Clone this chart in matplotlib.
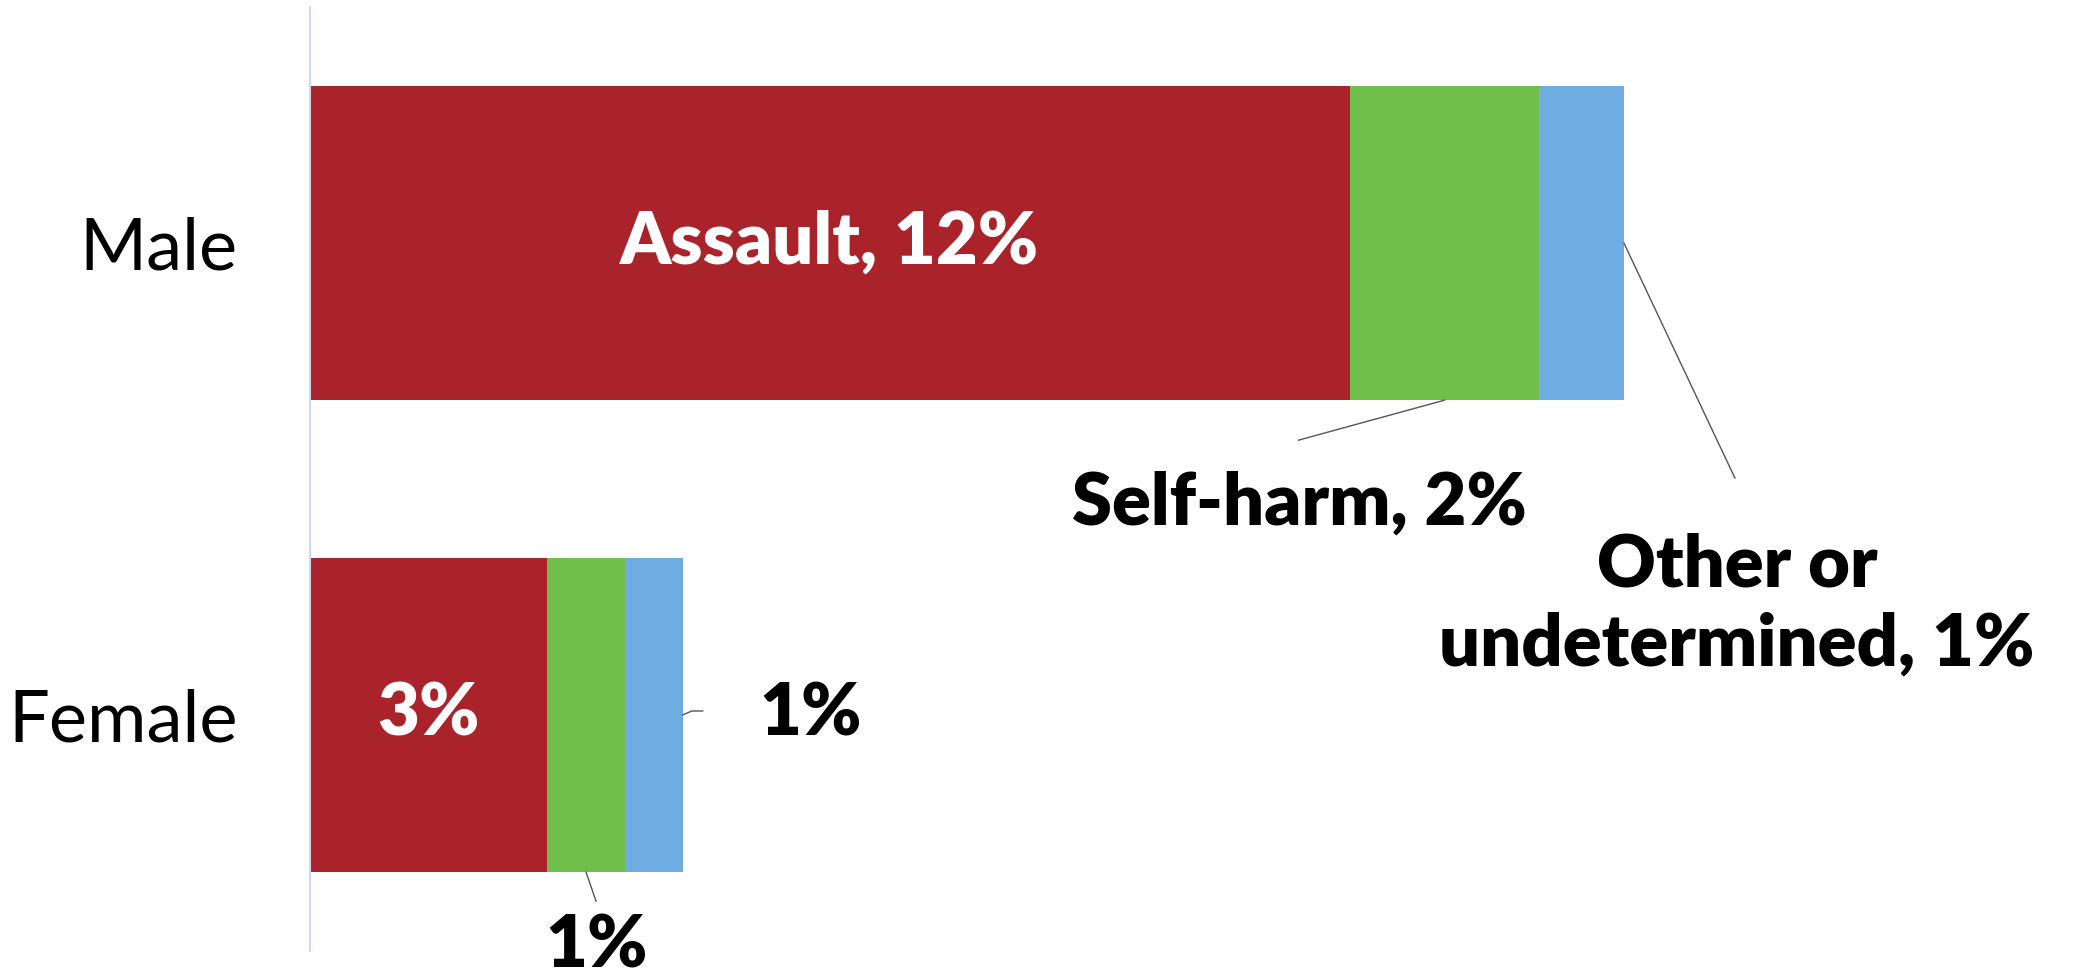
import numpy as np
import matplotlib
matplotlib.use("Agg")
import matplotlib.pyplot as plt

# Data (share of deaths, %)
groups = ["Male", "Female"]
causes = ["Assault", "Self-harm", "Other or undetermined"]
values = {
    "Assault": [12.0, 2.73],
    "Self-harm": [2.18, 0.91],
    "Other or undetermined": [0.98, 0.66],
}
labels = {
    "Assault": ["Assault, 12%", "3%"],
    "Self-harm": ["Self-harm, 2%", "1%"],
    "Other or undetermined": ["Other or\nundetermined, 1%", "1%"],
}
colors = {
    "Assault": "#AA222A",
    "Self-harm": "#70BF4B",
    "Other or undetermined": "#6FACE2",
}

plt.rcParams['font.family'] = ['Lato', 'DejaVu Sans']

W, H = 2077, 973
fig = plt.figure(figsize=(W / 100, H / 100), dpi=100)
ax = fig.add_axes([310 / W, 1 - 951 / H, 1 - 310 / W, 944 / H])

ypos = np.arange(len(groups))
left = np.zeros(len(groups))
segs = {}
for c in causes:
    v = np.array(values[c])
    ax.barh(ypos, v, left=left, height=0.667, color=colors[c], linewidth=0)
    segs[c] = (left.copy(), v)
    left = left + v

ax.set_xlim(0, (W - 310) / 86.67)
ax.set_ylim(1.5, -0.5)
ax.set_yticks(ypos)
ax.set_yticklabels(groups, fontsize=52)
ax.tick_params(axis='y', length=0, pad=52)
ax.set_xticks([])
for s in ["top", "right", "bottom"]:
    ax.spines[s].set_visible(False)
ax.spines["left"].set_color("#C9D9F7")
ax.spines["left"].set_linewidth(1.5)

bold = dict(fontsize=52, fontweight='heavy', ha='center', va='center')


def to_px(x, y):
    return ax.transData.transform((x, y))


def px_to_data(px, py):
    return ax.transData.inverted().transform((px, py))


def leader(points):
    pts = np.array([px_to_data(*p) for p in points])
    ax.plot(pts[:, 0], pts[:, 1], color="#555555", lw=1, clip_on=False)


# Assault labels inside bars
for i in range(len(groups)):
    l, v = segs["Assault"]
    ax.text(l[i] + v[i] / 2, ypos[i], labels["Assault"][i], color='white', **bold)

# Male: self-harm below
l, v = segs["Self-harm"]
x0, y0 = to_px(l[0] + v[0] / 2, ypos[0] + 0.333)
leader([(x0, y0), (x0 - 146, y0 - 40)])
ax.annotate(labels["Self-harm"][0], xy=px_to_data(x0 - 145, y0 - 103), xycoords='data',
            color='black', annotation_clip=False, **bold)

# Male: other to the lower right
l, v = segs["Other or undetermined"]
x0, y0 = to_px(l[0] + v[0], ypos[0])
leader([(x0, y0), (x0 + 111, y0 - 235)])
ax.annotate(labels["Other or undetermined"][0], xy=px_to_data(x0 + 113, y0 - 362),
            xycoords='data', color='black', annotation_clip=False,
            linespacing=1.25, **bold)

# Female: self-harm below
l, v = segs["Self-harm"]
x0, y0 = to_px(l[1] + v[1] / 2, ypos[1] + 0.333)
leader([(x0, y0), (x0 + 10, y0 - 29)])
ax.annotate(labels["Self-harm"][1], xy=px_to_data(x0 + 11, 6), xycoords='data',
            color='black', annotation_clip=False,
            fontsize=52, fontweight='heavy', ha='center', va='baseline')

# Female: other to the right
l, v = segs["Other or undetermined"]
x0, y0 = to_px(l[1] + v[1], ypos[1])
leader([(x0, y0 - 0), (x0 + 9, y0 + 4), (x0 + 20, y0 + 4)])
ax.annotate(labels["Other or undetermined"][1], xy=px_to_data(x0 + 128, y0), xycoords='data',
            color='black', annotation_clip=False, **bold)

fig.savefig("out.png", dpi=100, facecolor='white')
